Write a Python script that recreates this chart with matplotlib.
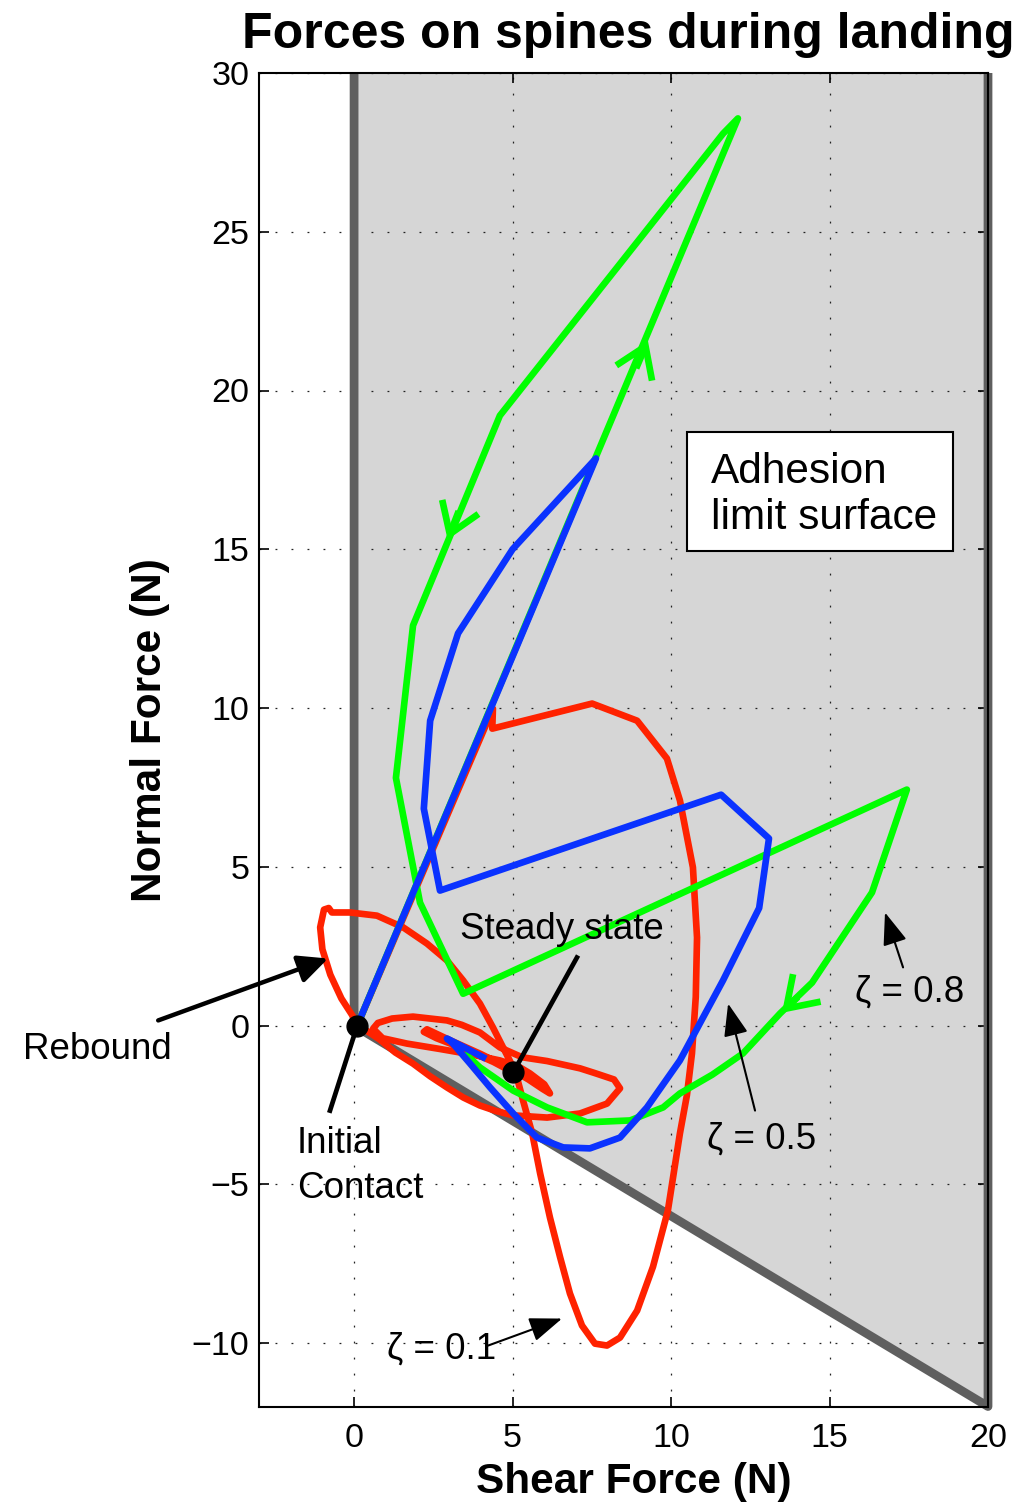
import matplotlib
matplotlib.use("Agg")
import matplotlib.pyplot as plt
from matplotlib.patches import FancyArrowPatch, Rectangle

plt.rcParams['font.family'] = ['Liberation Sans', 'DejaVu Sans']

# Adhesion limit surface (shear, normal)
limit_x = [0, 0, 20, 20]
limit_y = [30, 0, -12, 30]

# Force trajectories for three damping ratios
red_x = [0.1, 4.38, 4.36, 7.51, 8.93, 9.87, 10.28, 10.69, 10.82, 10.78, 10.66, 10.5,
         10.28, 9.9, 9.43, 8.93, 8.39, 7.98, 7.6, 7.19, 6.81, 6.5, 6.18, 5.87, 5.62,
         5.33, 5.14, 5.02, 4.7, 4.38, 3.97, 3.44, 2.93, 2.3, 1.55, 0.72, -0.13, -0.7,
         -0.8, -0.95, -1.07, -1.0, -0.75, -0.4, 0.15,
         0.45, 0.82, 1.3, 1.86, 2.4, 2.93, 3.45, 3.97, 4.5, 5.02, 6.09, 7.13, 7.98,
         8.39, 8.2, 7.6, 7.13, 6.09, 5.3, 4.6, 3.97, 3.4, 2.93, 1.86, 1.2, 0.75, 0.6,
         0.9, 1.67, 2.71, 3.75, 4.6, 5.2, 5.55, 6.0, 6.18, 5.95, 5.5, 4.9, 4.0, 3.0,
         2.3, 2.2, 2.6, 3.5, 4.4, 5.02]
red_y = [0.0, 9.98, 9.35, 10.14, 9.6, 8.41, 7.09, 4.98, 2.77, 0.9, -0.88, -2.2,
         -3.4, -5.83, -7.6, -8.98, -9.83, -10.08, -10.02, -9.45, -8.44, -7.3, -6.05,
         -4.66, -3.4, -2.36, -1.64, -1.32, -0.69, -0.06, 0.69, 1.42, 2.05, 2.58, 3.09,
         3.46, 3.56, 3.56, 3.7, 3.65, 3.09, 2.4, 1.6, 0.85, 0.0,
         -0.2, -0.45, -0.85, -1.2, -1.6, -1.95, -2.27, -2.52, -2.7, -2.83, -2.9,
         -2.77, -2.46, -1.98, -1.7, -1.5, -1.35, -1.12, -1.0, -0.69, -0.22, 0.02,
         0.16, 0.28, 0.22, 0.08, -0.1, -0.4, -0.57, -0.74, -0.92, -1.1, -1.3, -1.51,
         -1.85, -2.14, -2.0, -1.7, -1.35, -0.9, -0.45, -0.12, -0.2, -0.4, -0.75,
         -1.15, -1.48]

blue_x = [0.1, 7.63, 5.0, 3.28, 2.4, 2.2, 2.71, 11.58, 13.09, 12.78, 11.64, 10.28,
          9.24, 8.39, 7.44, 6.6, 5.77, 5.02, 4.29, 3.66, 3.12, 2.93, 3.4, 4.07]
blue_y = [0.0, 17.86, 15.0, 12.35, 9.6, 6.83, 4.25, 7.27, 5.89, 3.7, 1.42, -1.1,
          -2.58, -3.53, -3.87, -3.84, -3.53, -2.77, -1.95, -1.2, -0.57, -0.41,
          -0.65, -1.0]

green_x = [0.1, 12.11, 11.64, 4.6, 1.86, 1.32, 2.08, 3.44, 17.44, 16.34, 14.45,
           13.44, 12.27, 11.3, 10.28, 9.75, 8.71, 7.35, 6.09, 5.02, 3.97, 3.56]
green_y = [0.0, 28.57, 28.09, 19.21, 12.6, 7.8, 3.87, 1.0, 7.43, 4.19, 1.35, 0.38,
           -0.88, -1.55, -2.14, -2.58, -2.99, -3.05, -2.58, -2.05, -1.32, -0.94]

# Direction markers on the zeta = 0.8 trajectory: (tail, tip)
green_arrows = [((8.9, 20.7), (9.27, 21.57)),
                ((3.3, 16.2), (2.95, 15.3)),
                ((14.0, 0.9), (13.5, 0.4))]

# Marked states
contact_pt = (0.1, 0.0)
steady_pt = (5.02, -1.48)

RED = '#ff2200'
GREEN = '#00ff00'
BLUE = '#0a32ff'

fig = plt.figure(figsize=(10.3, 15.03), dpi=100)
ax = fig.add_axes([259 / 1030, 1 - 1406.5 / 1503, 729 / 1030, 1333.5 / 1503])
ax.set_xlim(-3, 20)
ax.set_ylim(-12, 30)

ax.fill(limit_x, limit_y, color='#d6d6d6', lw=0, zorder=0.5)
ax.plot(limit_x, limit_y, color='#5f5f5f', lw=6.3, solid_joinstyle='round',
        solid_capstyle='butt', zorder=1.8, clip_on=False)

lw = 4.8
ax.plot(red_x, red_y, color=RED, lw=lw, solid_joinstyle='round', zorder=2)
ax.plot(green_x, green_y, color=GREEN, lw=lw, solid_joinstyle='round', zorder=2.1)
ax.plot(blue_x, blue_y, color=BLUE, lw=lw, solid_joinstyle='round', zorder=2.2)

for tail, tip in green_arrows:
    ax.add_patch(FancyArrowPatch(tail, tip, arrowstyle='->,head_length=21,head_width=14',
                                 mutation_scale=1, color=GREEN, lw=lw,
                                 shrinkA=0, shrinkB=0, zorder=2.15,
                                 joinstyle='miter', capstyle='butt'))

# annotation pointers
def pointer(tail, tip, lw_, hl, hw):
    ax.add_patch(FancyArrowPatch(tail, tip,
                                 arrowstyle=f'-|>,head_length={hl},head_width={hw}',
                                 mutation_scale=1, color='black', lw=lw_,
                                 shrinkA=0, shrinkB=0, zorder=3, clip_on=False))

pointer((-6.18, 0.16), (-0.82, 2.11), 3.2, 18, 8.5)
pointer((17.32, 1.83), (16.75, 3.56), 1.5, 20, 7.5)
pointer((12.65, -2.68), (11.8, 0.69), 1.5, 20, 7.5)
pointer((4.23, -10.08), (6.56, -9.23), 1.5, 20, 7.5)

ax.plot([-0.76, contact_pt[0]], [-2.68, contact_pt[1]], color='black', lw=3.4, zorder=3)
ax.plot([7.03, steady_pt[0]], [2.14, steady_pt[1]], color='black', lw=3.4, zorder=3)

ax.plot(*contact_pt, 'o', color='black', ms=15, zorder=4)
ax.plot(*steady_pt, 'o', color='black', ms=15, zorder=4)

fs = 26.5
ax.text(-10.44, -1.04, 'Rebound', fontsize=fs, va='baseline', ha='left', clip_on=False)
ax.text(-1.80, -4.03, 'Initial', fontsize=fs, va='baseline', ha='left')
ax.text(-1.80, -5.42, 'Contact', fontsize=fs, va='baseline', ha='left')
ax.text(3.34, 2.71, 'Steady state', fontsize=fs, va='baseline', ha='left', zorder=5)
ax.text(15.8, 0.76, 'ζ = 0.8', fontsize=fs, va='baseline', ha='left')
ax.text(11.14, -3.87, 'ζ = 0.5', fontsize=fs, va='baseline', ha='left')
ax.text(1.04, -10.49, 'ζ = 0.1', fontsize=fs, va='baseline', ha='left')

ax.add_patch(Rectangle((10.50, 14.96), 8.40, 3.72, facecolor='white',
                       edgecolor='black', lw=1.5, zorder=5))
ax.text(11.26, 17.1, 'Adhesion', fontsize=30.5, va='baseline', ha='left', zorder=6)
ax.text(11.26, 15.65, 'limit surface', fontsize=30.5, va='baseline', ha='left', zorder=6)

ax.set_xticks([0, 5, 10, 15, 20])
ax.set_yticks([-10, -5, 0, 5, 10, 15, 20, 25, 30])
ax.grid(True, color='#222222', linestyle=(0, (1.5, 11.3)), linewidth=0.9)
ax.tick_params(direction='in', length=7, width=1.2, top=True, right=True,
               labelsize=24.5)
ax.tick_params(axis='x', pad=12)
ax.tick_params(axis='y', pad=7)
for s in ax.spines.values():
    s.set_linewidth(1.5)

fig.text(628 / 1030, 1 - 48 / 1503, 'Forces on spines during landing',
         ha='center', va='baseline', fontsize=36, fontweight='bold')
fig.text(634 / 1030, 1 - 1493 / 1503, 'Shear Force (N)', ha='center',
         va='baseline', fontsize=30.5, fontweight='bold')
fig.text(150 / 1030, 1 - 730 / 1503, 'Normal Force (N)', ha='center',
         va='center', rotation=90, fontsize=30.5, fontweight='bold')

fig.savefig('out.png', dpi=100)
